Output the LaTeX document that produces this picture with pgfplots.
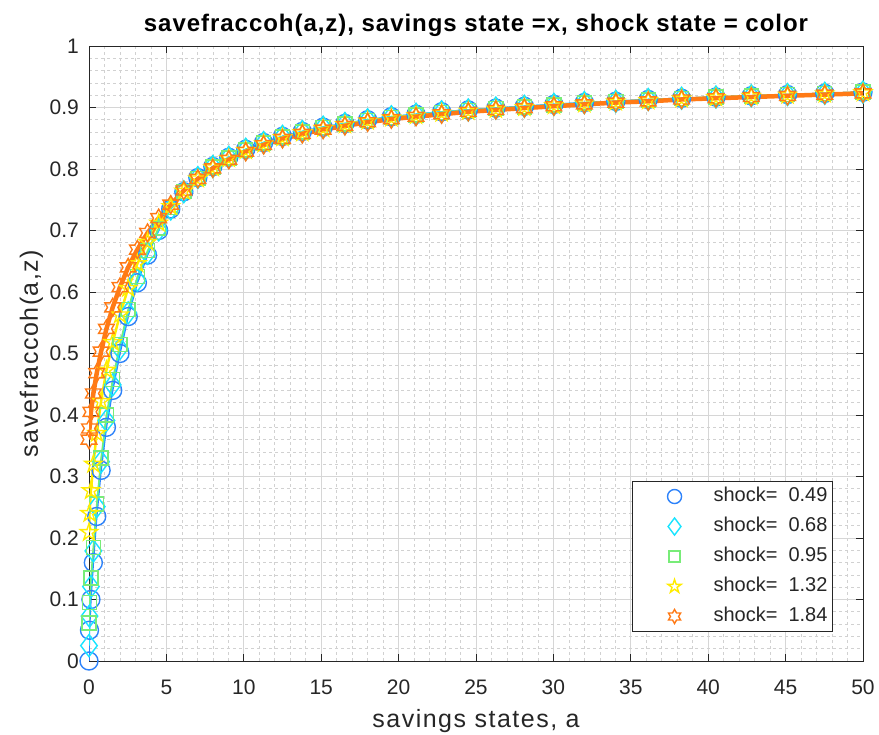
\documentclass[border=0pt]{standalone}
\usepackage{pgfplots}
\pgfplotsset{compat=1.18}
\usepackage{pgfplotstable}
\usepackage{fontspec}
\setmainfont{Liberation Sans}
\newfontfamily\lblfont[LetterSpace=6]{Liberation Sans}
\newfontfamily\ttlfont[LetterSpace=4]{Liberation Sans}

\definecolor{cB}{RGB}{45,130,250}
\definecolor{cC}{RGB}{25,228,255}
\definecolor{cG}{RGB}{120,236,120}
\definecolor{cY}{RGB}{255,236,0}
\definecolor{cO}{RGB}{255,122,22}
\definecolor{axcol}{RGB}{38,38,38}

% outline star marks (matlab pentagram / hexagram)
\pgfdeclareplotmark{pentagram}{%
  \pgfpathmoveto{\pgfpointpolar{90}{\pgfplotmarksize}}%
  \pgfpathlineto{\pgfpointpolar{126}{0.382\pgfplotmarksize}}%
  \pgfpathlineto{\pgfpointpolar{162}{\pgfplotmarksize}}%
  \pgfpathlineto{\pgfpointpolar{198}{0.382\pgfplotmarksize}}%
  \pgfpathlineto{\pgfpointpolar{234}{\pgfplotmarksize}}%
  \pgfpathlineto{\pgfpointpolar{270}{0.382\pgfplotmarksize}}%
  \pgfpathlineto{\pgfpointpolar{306}{\pgfplotmarksize}}%
  \pgfpathlineto{\pgfpointpolar{342}{0.382\pgfplotmarksize}}%
  \pgfpathlineto{\pgfpointpolar{18}{\pgfplotmarksize}}%
  \pgfpathlineto{\pgfpointpolar{54}{0.382\pgfplotmarksize}}%
  \pgfpathclose
  \pgfusepathqstroke
}
\pgfdeclareplotmark{hexagram}{%
  \pgfpathmoveto{\pgfpointpolar{90}{\pgfplotmarksize}}%
  \pgfpathlineto{\pgfpointpolar{120}{0.577\pgfplotmarksize}}%
  \pgfpathlineto{\pgfpointpolar{150}{\pgfplotmarksize}}%
  \pgfpathlineto{\pgfpointpolar{180}{0.577\pgfplotmarksize}}%
  \pgfpathlineto{\pgfpointpolar{210}{\pgfplotmarksize}}%
  \pgfpathlineto{\pgfpointpolar{240}{0.577\pgfplotmarksize}}%
  \pgfpathlineto{\pgfpointpolar{270}{\pgfplotmarksize}}%
  \pgfpathlineto{\pgfpointpolar{300}{0.577\pgfplotmarksize}}%
  \pgfpathlineto{\pgfpointpolar{330}{\pgfplotmarksize}}%
  \pgfpathlineto{\pgfpointpolar{0}{0.577\pgfplotmarksize}}%
  \pgfpathlineto{\pgfpointpolar{30}{\pgfplotmarksize}}%
  \pgfpathlineto{\pgfpointpolar{60}{0.577\pgfplotmarksize}}%
  \pgfpathclose
  \pgfusepathqstroke
}

% savings grid a, then savefraccoh for shocks 0.49 0.68 0.95 1.32 1.84
\pgfplotstableread{
a       b     c     g     y     o
0       0.000 0.025 0.062 0.209 0.360
0.031   0.050 0.073 0.095 0.240 0.378
0.125   0.100 0.121 0.135 0.277 0.405
0.281   0.160 0.179 0.185 0.320 0.435
0.5     0.235 0.251 0.255 0.370 0.468
0.781   0.310 0.324 0.330 0.422 0.503
1.125   0.380 0.391 0.400 0.473 0.540
1.531   0.440 0.449 0.458 0.518 0.575
2       0.500 0.508 0.515 0.563 0.608
2.531   0.560 0.566 0.572 0.606 0.640
3.125   0.615 0.619 0.625 0.646 0.669
3.781   0.660 0.663 0.667 0.681 0.696
4.5     0.700 0.701 0.704 0.712 0.720
5.281   0.735 0.735 0.737 0.739 0.742
6.125   0.763 0.763 0.763 0.764 0.765
7.031   0.786 0.786 0.785 0.784 0.784
8       0.804 0.804 0.803 0.802 0.801
9.031   0.819 0.819 0.818 0.817 0.815
10.125  0.832 0.832 0.831 0.830 0.828
11.281  0.843 0.843 0.842 0.841 0.839
12.5    0.853 0.853 0.852 0.851 0.849
13.781  0.861 0.861 0.860 0.859 0.857
15.125  0.868 0.868 0.867 0.866 0.864
16.531  0.874 0.874 0.873 0.872 0.870
18      0.880 0.880 0.879 0.878 0.876
19.531  0.885 0.885 0.884 0.883 0.881
21.125  0.889 0.889 0.888 0.887 0.885
22.781  0.893 0.893 0.892 0.891 0.889
24.5    0.896 0.896 0.895 0.894 0.893
26.281  0.899 0.899 0.898 0.897 0.896
28.125  0.902 0.902 0.901 0.900 0.899
30.031  0.905 0.905 0.904 0.903 0.902
32      0.908 0.908 0.907 0.906 0.905
34.031  0.910 0.910 0.910 0.909 0.908
36.125  0.913 0.913 0.912 0.911 0.910
38.281  0.915 0.915 0.915 0.914 0.913
40.5    0.917 0.917 0.917 0.916 0.915
42.781  0.919 0.919 0.919 0.918 0.917
45.125  0.921 0.921 0.921 0.920 0.919
47.531  0.923 0.923 0.923 0.922 0.921
50      0.925 0.925 0.925 0.924 0.923
}\savedata

\begin{document}
\begin{tikzpicture}
\path[use as bounding box] (0,0) rectangle (879pt,735pt);
\begin{axis}[
    at={(89pt,74pt)}, anchor=south west,
    width=774pt, height=615pt, scale only axis,
    xmin=0, xmax=50, ymin=0, ymax=1,
    xtick={0,5,10,15,20,25,30,35,40,45,50},
    ytick={0,0.1,0.2,0.3,0.4,0.5,0.6,0.7,0.8,0.9,1},
    minor x tick num=4, minor y tick num=4,
    grid=both,
    major grid style={black!16, line width=0.8pt},
    minor grid style={black!18, line width=0.6pt, dash pattern=on 3pt off 3pt},
    tick align=inside, major tick length=7pt, minor tick length=0pt,
    axis line style={axcol, line width=0.9pt},
    major tick style={axcol, line width=0.9pt},
    /pgf/number format/assume math mode=true,
    ticklabel style={font=\fontsize{21}{25}\selectfont, text=axcol},
    xticklabel style={inner sep=0pt, yshift=-19pt},
    yticklabel style={inner sep=0pt, xshift=-10pt},
    title={savefraccoh(a,z), savings state =x, shock state = color},
    title style={font=\ttlfont\bfseries\fontsize{24}{28}\selectfont, text=black,
        at={(axis description cs:0.5,1)}, anchor=base, yshift=8pt},
    xlabel={savings states, a},
    xlabel style={font=\lblfont\fontsize{25}{30}\selectfont, text=axcol,
        at={(axis description cs:0.5,0)}, anchor=base, yshift=-67pt},
    ylabel={savefraccoh(a,z)},
    ylabel style={font=\lblfont\fontsize{25}{30}\selectfont, text=axcol, anchor=base},
    every axis y label/.append style={at={([xshift=-51pt]axis description cs:0,0.5)}},
    legend image code/.code={\path[draw=none, fill=none] (0pt,-8pt) rectangle (76pt,8pt);
        \draw[#1, every mark/.append style={scale=0.78}] plot coordinates {(40pt,0pt)};},
    legend style={at={(axis description cs:0.9612,0.0472)}, anchor=south east,
        draw=axcol, line width=0.9pt, fill=white,
        font=\fontsize{20}{24}\selectfont, text=axcol,
        row sep=6pt, inner xsep=2pt, inner ysep=3pt,
        nodes={inner sep=3pt, text height=14pt, text depth=4pt}},
    legend cell align=left,
]

\addplot[only marks, cB, mark=o, mark size=9pt, mark options={line width=1.4pt}]
    table[x=a, y=b]{\savedata};
\addplot[only marks, cC, mark=diamond, mark size=11pt, mark options={line width=1.4pt}]
    table[x=a, y=c]{\savedata};
\addplot[only marks, cG, mark=square, mark size=7pt, mark options={line width=1.4pt}]
    table[x=a, y=g]{\savedata};
\addplot[only marks, cY, mark=pentagram, mark size=9pt, mark options={line width=1.4pt}]
    table[x=a, y=y]{\savedata};
\addplot[only marks, cO, mark=hexagram, mark size=9pt, mark options={line width=1.4pt}]
    table[x=a, y=o]{\savedata};

% lines on top, orange last
\addplot[cB, line width=1.5pt, forget plot] table[x=a, y=b]{\savedata};
\addplot[cC, line width=1.5pt, forget plot] table[x=a, y=c]{\savedata};
\addplot[cG, line width=1.5pt, forget plot] table[x=a, y=g]{\savedata};
\addplot[cY, line width=2.5pt, forget plot] table[x=a, y=y]{\savedata};
\addplot[cO, line width=4.5pt, forget plot] table[x=a, y=o]{\savedata};

\legend{shock= \ 0.49, shock= \ 0.68, shock= \ 0.95, shock= \ 1.32, shock= \ 1.84}
\end{axis}
\end{tikzpicture}
\end{document}
